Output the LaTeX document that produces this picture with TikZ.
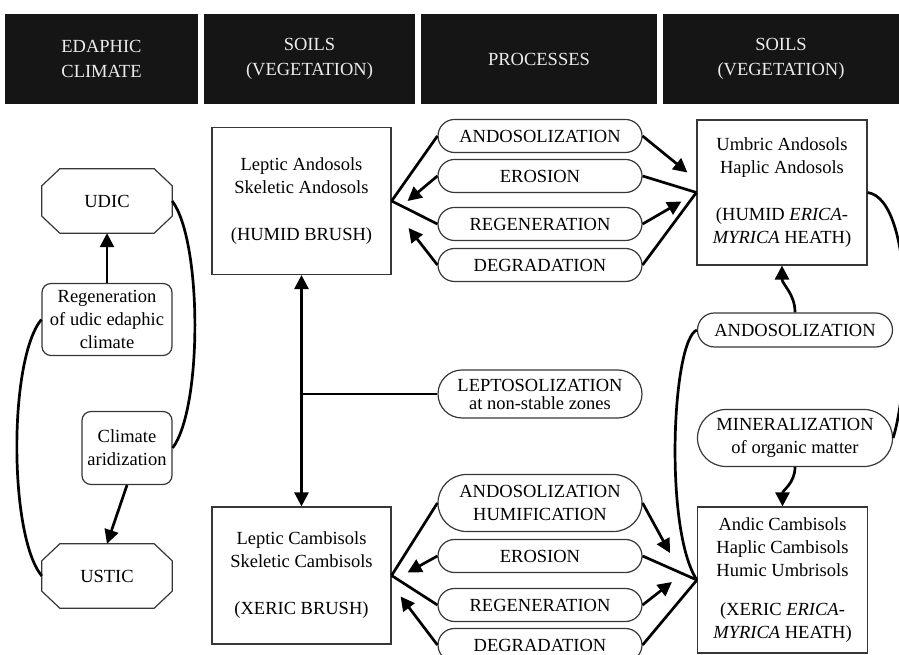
\documentclass[tikz,border=0pt]{standalone}
\usepackage{fontspec}
\setmainfont{Liberation Serif}
\usetikzlibrary{arrows.meta,shapes.misc,positioning}
\definecolor{headblack}{RGB}{21,21,21}
\definecolor{headtext}{RGB}{236,236,236}
\definecolor{frame}{RGB}{55,55,55}

\tikzset{
  every node/.style={font=\fontsize{18.5}{23}\selectfont, align=center},
  head/.style={fill=headblack, text=headtext, minimum height=90pt, inner sep=0pt,
    font=\fontsize{18.5}{25}\selectfont},
  soilbox/.style={draw=frame, line width=1.2pt, inner sep=0pt},
  roundbox/.style={draw=frame, line width=1.2pt, rounded corners=9pt, inner sep=0pt},
  octbox/.style={inner sep=0pt, minimum width=130pt, minimum height=64pt},
  proc/.style={draw=frame, line width=1.2pt, rounded rectangle, minimum width=204pt,
    minimum height=33pt, inner sep=0pt},
  conn/.style={line width=2.7pt, line join=round},
  flow/.style={conn, -{Triangle[length=14pt,width=14pt]}},
}
\newcommand{\octframe}[1]{%
  \draw[draw=frame, line width=1.2pt] ([xshift=18pt]#1.north west) -- ([xshift=-18pt]#1.north east)
    -- ([yshift=-17pt]#1.north east) -- ([yshift=17pt]#1.south east)
    -- ([xshift=-18pt]#1.south east) -- ([xshift=18pt]#1.south west)
    -- ([yshift=17pt]#1.south west) -- ([yshift=-17pt]#1.north west) -- cycle;}

\begin{document}
\begin{tikzpicture}[x=1pt,y=1pt]
  \useasboundingbox (0,0) rectangle (899,655);
  \clip (0,0) rectangle (899,655);

  % column headers
  \foreach \n/\xa/\xb/\txt in {headA/5/198/{EDAPHIC\\CLIMATE}, headB/204/415/{SOILS\\(VEGETATION)},
      headC/421/657/PROCESSES, headD/663/899/{SOILS\\(VEGETATION)}}
    \node[head, minimum width={(\xb-\xa)*1pt}] (\n) at ({(\xa+\xb)/2},596) {\txt};

  % edaphic climate
  \node[octbox] (udic) at (107,454) {UDIC};
  \node[roundbox, minimum width=130pt, minimum height=72pt] (regen) at (107,335.5)
    {Regeneration\\of udic edaphic\\climate};
  \node[roundbox, minimum width=90pt, minimum height=73pt] (arid) at (127,207)
    {Climate\\aridization};
  \node[octbox] (ustic) at (107,79) {USTIC};
  \octframe{udic}
  \octframe{ustic}

  % soils (vegetation)
  \node[soilbox, minimum width=179pt, minimum height=147pt] (humid) at (301.5,454)
    {Leptic Andosols\\Skeletic Andosols\\[24pt](HUMID BRUSH)};
  \node[soilbox, minimum width=179pt, minimum height=137pt] (xeric) at (301.5,79.5)
    {Leptic Cambisols\\Skeletic Cambisols\\[24pt](XERIC BRUSH)};
  \node[soilbox, minimum width=170pt, minimum height=145pt] (umbric) at (782,462.5)
    {Umbric Andosols\\Haplic Andosols\\[24pt](HUMID \textit{ERICA-}\\\textit{MYRICA} HEATH)};
  \node[soilbox, minimum width=170pt, minimum height=146pt] (andic) at (782.5,75)
    {Andic Cambisols\\Haplic Cambisols\\Humic Umbrisols\\[16pt](XERIC \textit{ERICA-}\\\textit{MYRICA} HEATH)};

  % processes
  \foreach \n/\y/\txt in {andoA/519/ANDOSOLIZATION, eroA/479/EROSION, regA/431/REGENERATION,
      degA/390/DEGRADATION, eroB/99/EROSION, regB/50/REGENERATION, degB/10/DEGRADATION}
    \node[proc] (\n) at (540,\y) {\txt};
  \node[proc, minimum height=57pt] (andoB) at (540,152) {ANDOSOLIZATION\\HUMIFICATION};
  \node[proc, minimum height=48pt] (lepto) at (540,261) {LEPTOSOLIZATION\\[-5pt]at non-stable zones};
  \node[proc, minimum width=195pt, minimum height=34pt] (andoC) at (795,325) {ANDOSOLIZATION};
  \node[proc, minimum width=195pt, minimum height=57pt] (miner) at (795,217)
    {MINERALIZATION\\of organic matter};

  % climate cycle
  \draw[flow] (regen.north) -- (udic.south);
  \draw[flow] (arid.south) -- (ustic.north);
  \draw[conn] (udic.east) .. controls ([xshift=30pt,yshift=-40pt]udic.east)
    and ([xshift=30pt,yshift=40pt]arid.east) .. (arid.east);
  \draw[conn] (regen.west) .. controls ([xshift=-33pt,yshift=-40pt]regen.west)
    and ([xshift=-33pt,yshift=40pt]ustic.west) .. (ustic.west);

  % leptosolization between brush soils
  \draw[conn, {Triangle[length=14pt,width=14pt]}-{Triangle[length=14pt,width=14pt]}]
    (humid.south) -- (xeric.north);
  \coordinate (fork) at (humid.south |- lepto.west);
  \draw[conn] (fork) -- (lepto.west);

  % humid fan
  \draw[conn] (andoA.west) -- (humid.east);
  \draw[flow] (eroA.west) -- ([xshift=16pt]humid.east);
  \draw[conn] (regA.west) -- (humid.east);
  \draw[flow] (degA.west) -- ([xshift=17pt,yshift=-27pt]humid.east);
  \draw[flow] (andoA.east) -- ([xshift=-9pt,yshift=20pt]umbric.west);
  \draw[conn] (eroA.east) -- (umbric.west);
  \draw[flow] (regA.east) -- ([xshift=-15pt,yshift=-9pt]umbric.west);
  \draw[conn] (degA.east) -- (umbric.west);

  % xeric fan
  \draw[conn] (andoB.west) -- (xeric.east);
  \draw[flow] (eroB.west) -- ([xshift=16pt,yshift=3pt]xeric.east);
  \draw[conn] (regB.west) -- (xeric.east);
  \draw[flow] (degB.west) -- ([xshift=9pt,yshift=-21pt]xeric.east);
  \draw[flow] (andoB.east) -- ([xshift=-27pt,yshift=27pt]andic.west);
  \draw[conn] (eroB.east) -- (andic.west);
  \draw[flow] (regB.east) -- ([xshift=-25pt,yshift=-2pt]andic.west);
  \draw[conn] (degB.east) -- (andic.west);

  % heath cycle
  \draw[flow] (andoC.north) to[out=90,in=-90] (umbric.south);
  \draw[flow] (miner.south) to[out=-90,in=90] (andic.north);
  \draw[conn] (andoC.west) .. controls ([xshift=-25pt,yshift=-10pt]andoC.west)
    and ([xshift=-33pt,yshift=50pt]andic.west) .. (andic.west);
  \draw[conn] (umbric.east) .. controls ([xshift=48pt,yshift=-7pt]umbric.east)
    and ([xshift=18pt,yshift=58pt]miner.east) .. (miner.east);
\end{tikzpicture}
\end{document}
